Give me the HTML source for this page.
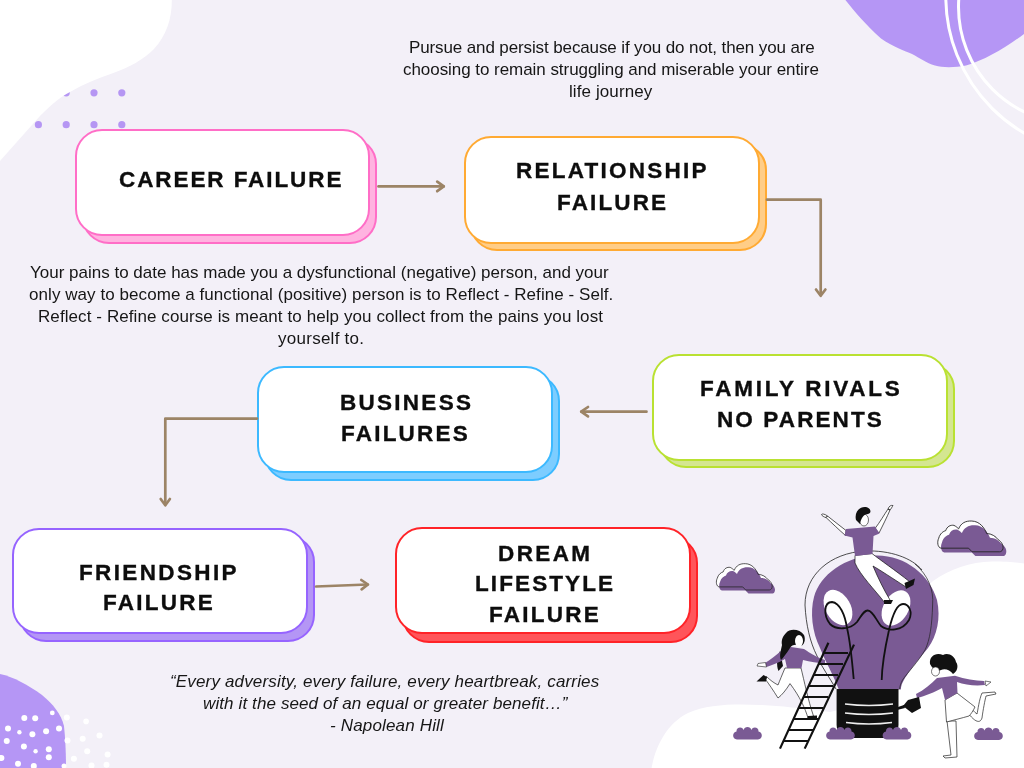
<!DOCTYPE html>
<html><head><meta charset="utf-8"><style>
html,body{margin:0;padding:0;}
body{width:1024px;height:768px;overflow:hidden;position:relative;background:#F3F0F8;font-family:"Liberation Sans",sans-serif;}
.a{position:absolute;}
.lb,.tx{will-change:transform;}
.sh,.fr{position:absolute;box-sizing:border-box;border-radius:27px;border:2px solid;}
.fr{background:#fff;}
.lb{position:absolute;white-space:nowrap;font-weight:bold;font-size:22.5px;line-height:30px;color:#0d0d0d;-webkit-text-stroke:0.35px #0d0d0d;}
.tx{position:absolute;white-space:nowrap;font-size:17px;line-height:30px;color:#161616;}
.it{font-style:italic;}
svg{position:absolute;left:0;top:0;}
</style></head><body>

<svg width="1024" height="768" viewBox="0 0 1024 768">
<circle cx="38.4" cy="29" r="3.6" fill="#B596F3"/>
<circle cx="66.2" cy="29" r="3.6" fill="#B596F3"/>
<circle cx="94" cy="29" r="3.6" fill="#B596F3"/>
<circle cx="121.8" cy="29" r="3.6" fill="#B596F3"/>
<circle cx="38.4" cy="61" r="3.6" fill="#B596F3"/>
<circle cx="66.2" cy="61" r="3.6" fill="#B596F3"/>
<circle cx="94" cy="61" r="3.6" fill="#B596F3"/>
<circle cx="121.8" cy="61" r="3.6" fill="#B596F3"/>
<circle cx="38.4" cy="92.8" r="3.6" fill="#B596F3"/>
<circle cx="66.2" cy="92.8" r="3.6" fill="#B596F3"/>
<circle cx="94" cy="92.8" r="3.6" fill="#B596F3"/>
<circle cx="121.8" cy="92.8" r="3.6" fill="#B596F3"/>
<circle cx="38.4" cy="124.7" r="3.6" fill="#B596F3"/>
<circle cx="66.2" cy="124.7" r="3.6" fill="#B596F3"/>
<circle cx="94" cy="124.7" r="3.6" fill="#B596F3"/>
<circle cx="121.8" cy="124.7" r="3.6" fill="#B596F3"/>
<path d="M0,0 L171.8,0 C172,19 166,36 154,49 C143,60 130,67 112,73.5 C98,78 84,84 70,92 C60,97 52,104 40,116 L0,161 Z" fill="#fff"/>
<path d="M845.4,0 C855,12 866,25 881,38.6 C893,47 905,51 912,54 C920,58 926,63 935,65.6 C943,68 956,67.5 966,65.6 C985,60 1005,48 1024,34 L1024,0 Z" fill="#B596F5"/>
<circle cx="1103.7" cy="-3.3" r="157.9" fill="none" stroke="#fff" stroke-width="3"/>
<circle cx="1075" cy="7" r="116.5" fill="none" stroke="#fff" stroke-width="3"/>
<path d="M0,674 C14,677 28,685 42,695 C53,704 61,714 64,726 C65.5,740 66,755 66,768 L0,768 Z" fill="#B596F5"/>
<circle cx="24.3" cy="718" r="3" fill="#fff"/>
<circle cx="35.2" cy="718.3" r="3" fill="#fff"/>
<circle cx="52.3" cy="712.9" r="2.4" fill="#fff"/>
<circle cx="8" cy="728.5" r="3" fill="#fff"/>
<circle cx="19.4" cy="732.2" r="2.2" fill="#fff"/>
<circle cx="32.4" cy="734.3" r="3" fill="#fff"/>
<circle cx="46.1" cy="731.2" r="3" fill="#fff"/>
<circle cx="59" cy="728.5" r="3" fill="#fff"/>
<circle cx="6.75" cy="741" r="3" fill="#fff"/>
<circle cx="23.9" cy="746.6" r="3" fill="#fff"/>
<circle cx="35.6" cy="751.2" r="2.2" fill="#fff"/>
<circle cx="48.8" cy="749.2" r="3" fill="#fff"/>
<circle cx="1.4" cy="757.9" r="3" fill="#fff"/>
<circle cx="18" cy="763.8" r="3" fill="#fff"/>
<circle cx="33.8" cy="766" r="3" fill="#fff"/>
<circle cx="48.8" cy="757.2" r="3" fill="#fff"/>
<circle cx="66.8" cy="717.5" r="3" fill="#fff"/>
<circle cx="86.1" cy="721.4" r="2.8" fill="#fff"/>
<circle cx="67.5" cy="740.4" r="3" fill="#fff"/>
<circle cx="82.7" cy="738.7" r="3" fill="#fff"/>
<circle cx="99.5" cy="735.4" r="3" fill="#fff"/>
<circle cx="87.2" cy="751.2" r="3" fill="#fff"/>
<circle cx="73.9" cy="758.7" r="3" fill="#fff"/>
<circle cx="107.6" cy="754.6" r="3" fill="#fff"/>
<circle cx="91.5" cy="765.6" r="3" fill="#fff"/>
<circle cx="106.5" cy="764.8" r="3" fill="#fff"/>
<circle cx="64" cy="766" r="2.5" fill="#fff"/>
</svg>
<div class="sh" style="left:81.70000000000002px;top:136.89999999999998px;width:295.1px;height:106.70000000000002px;border-color:#FF6EC7;background:#FFB3E0"></div>
<div class="fr" style="left:74.6px;top:129.1px;width:295.1px;height:106.70000000000002px;border-color:#FF6EC7"></div>
<div class="sh" style="left:470.4px;top:143.4px;width:296.4px;height:107.69999999999999px;border-color:#FFAA33;background:#FFCD87"></div>
<div class="fr" style="left:464.1px;top:135.9px;width:296.4px;height:107.69999999999999px;border-color:#FFAA33"></div>
<div class="sh" style="left:659.1999999999999px;top:361.6px;width:295.6px;height:106.89999999999998px;border-color:#B9E132;background:#D4E691"></div>
<div class="fr" style="left:652.1px;top:353.8px;width:295.6px;height:106.89999999999998px;border-color:#B9E132"></div>
<div class="sh" style="left:264.19999999999993px;top:373.90000000000003px;width:295.6px;height:107.29999999999995px;border-color:#3CB9FF;background:#7DCDFF"></div>
<div class="fr" style="left:257.1px;top:366.1px;width:295.6px;height:107.29999999999995px;border-color:#3CB9FF"></div>
<div class="sh" style="left:19.200000000000024px;top:535.4px;width:295.59999999999997px;height:106.5px;border-color:#9664FF;background:#B496F5"></div>
<div class="fr" style="left:12.1px;top:527.9px;width:295.59999999999997px;height:106.5px;border-color:#9664FF"></div>
<div class="sh" style="left:401.69999999999993px;top:535.5px;width:296.1px;height:107.20000000000005px;border-color:#FF2328;background:#FF555A"></div>
<div class="fr" style="left:395.4px;top:526.8px;width:296.1px;height:107.20000000000005px;border-color:#FF2328"></div>
<svg width="1024" height="768" viewBox="0 0 1024 768" fill="none" stroke="#9C8466" stroke-width="2.7" stroke-linecap="round" stroke-linejoin="round">
<path d="M378.5,186.4 H443.5"/><path d="M437.2,181.6 L443.8,186.4 L437.2,191.2"/>
<path d="M767,199.7 H820.7 V295"/><path d="M816,289.5 L820.7,295.8 L825.4,289.5"/>
<path d="M646.5,411.7 H581.5"/><path d="M588,407 L581.2,411.7 L588,416.4"/>
<path d="M257,418.6 H165.3 V504.5"/><path d="M160.7,499 L165.3,505.3 L169.9,499"/>
<path d="M316,586.5 L367.5,584.5"/><path d="M361.3,580 L368,584.5 L361.6,589.3"/>
</svg>
<div class="lb" style="left:118.6px;top:165.0px;letter-spacing:1.915px">CAREER FAILURE</div>
<div class="lb" style="left:516.2px;top:155.9px;letter-spacing:2.236px">RELATIONSHIP</div>
<div class="lb" style="left:556.6px;top:187.7px;letter-spacing:2.133px">FAILURE</div>
<div class="lb" style="left:699.6px;top:373.9px;letter-spacing:2.725px">FAMILY RIVALS</div>
<div class="lb" style="left:717.0px;top:404.7px;letter-spacing:2.111px">NO PARENTS</div>
<div class="lb" style="left:339.7px;top:388.0px;letter-spacing:2.271px">BUSINESS</div>
<div class="lb" style="left:341.0px;top:419.0px;letter-spacing:2.214px">FAILURES</div>
<div class="lb" style="left:79.0px;top:557.5px;letter-spacing:2.367px">FRIENDSHIP</div>
<div class="lb" style="left:102.5px;top:588.4px;letter-spacing:2.25px">FAILURE</div>
<div class="lb" style="left:497.9px;top:538.8px;letter-spacing:2.4px">DREAM</div>
<div class="lb" style="left:474.6px;top:569.3px;letter-spacing:2.1px">LIFESTYLE</div>
<div class="lb" style="left:488.6px;top:600.2px;letter-spacing:2.25px">FAILURE</div>
<div class="tx" style="left:408.6px;top:32.9px;letter-spacing:-0.119px">Pursue and persist because if you do not, then you are</div>
<div class="tx" style="left:403.1px;top:54.8px;letter-spacing:-0.05px">choosing to remain struggling and miserable your entire</div>
<div class="tx" style="left:569.25px;top:76.7px;letter-spacing:0.095px">life journey</div>
<div class="tx" style="left:29.9px;top:257.8px;letter-spacing:0.0px">Your pains to date has made you a dysfunctional (negative) person, and your</div>
<div class="tx" style="left:28.7px;top:279.8px;letter-spacing:0.065px">only way to become a functional (positive) person is to Reflect - Refine - Self.</div>
<div class="tx" style="left:37.5px;top:301.7px;letter-spacing:0.087px">Reflect - Refine course is meant to help you collect from the pains you lost</div>
<div class="tx" style="left:277.8px;top:323.6px;letter-spacing:0.264px">yourself to.</div>
<div class="tx it" style="left:170.3px;top:666.7px;letter-spacing:0.16px">“Every adversity, every failure, every heartbreak, carries</div>
<div class="tx it" style="left:202.6px;top:688.7px;letter-spacing:0.112px">with it the seed of an equal or greater benefit…”</div>
<div class="tx it" style="left:329.7px;top:710.7px;letter-spacing:0.164px">- Napolean Hill</div>
<svg width="1024" height="768" viewBox="0 0 1024 768">
<!-- white hill -->
<path d="M651.6,768 C655,748 666,724 688,713 C708,704 735,704 760,705 C780,706 798,708 830,712 L880,700 C905,640 915,595 933,581 C950,569 970,562 992,561.5 C1008,561.5 1018,562.5 1024,563.5 L1024,768 Z" fill="#fff"/>
<!-- clouds -->
<g id="cl">
<path d="M722,590.5 C719,590 718.5,585 720,582 C721,578 724,576 726,575.5 C727,572 730,570.5 733,571 C735,572 736,573 737,574 C739,569 743,567 748.3,567.3 C755,567.5 759,573 761,578 C765,578 769,580.5 770.5,583 C774,585 776,589 774.5,592 C774,593 773,593.6 772,593.6 L748.5,593.6 L745.5,590.5 Z" transform="translate(-2.8,-3.6)" fill="#fff"/>
<path d="M722,590.5 C719,590 718.5,585 720,582 C721,578 724,576 726,575.5 C727,572 730,570.5 733,571 C735,572 736,573 737,574 C739,569 743,567 748.3,567.3 C755,567.5 759,573 761,578 C765,578 769,580.5 770.5,583 C774,585 776,589 774.5,592 C774,593 773,593.6 772,593.6 L748.5,593.6 L745.5,590.5 Z" fill="#7A5A94"/>
<path d="M722,590.5 C719,590 718.5,585 720,582 C721,578 724,576 726,575.5 C727,572 730,570.5 733,571 C735,572 736,573 737,574 C739,569 743,567 748.3,567.3 C755,567.5 759,573 761,578 C765,578 769,580.5 770.5,583 C774,585 776,589 774.5,592 C774,593 773,593.6 772,593.6 L748.5,593.6 L745.5,590.5 Z" transform="translate(-2.8,-3.6)" fill="none" stroke="#222" stroke-width="0.75"/>
</g>
<use href="#cl" transform="translate(99.6,-138.5) scale(1.17)"/>
<!-- bulb outline thin -->
<path d="M836,689 C830,678 822,668 817,656 C810,642 806,625 805,605 C805,575 830,553 865,551 C890,550 912,558 922,570" fill="none" stroke="#222" stroke-width="0.8"/>
<!-- bulb glass -->
<path d="M838.8,689.5 C834,676 826,663 820,648 C812,632 810,612 814,597 C820,575 845,556 876,555.5 C905,555 930,575 937,600 C941,618 937,636 928,648 C920,658 911,668 905,678 C902,683 901,686 900.8,689.5 Z" fill="#7A5A94"/>
<!-- inner thin line right -->
<path d="M915,564 C928,575 934,590 932.6,605 C932,625 930,640 925,650 C918,662 908,672 902.5,680 C900.5,684 900,686 899.6,689" fill="none" stroke="#222" stroke-width="0.7"/>
<!-- highlights -->
<ellipse cx="838" cy="607.5" rx="12.5" ry="19" transform="rotate(-30 838 607.5)" fill="#fff"/>
<ellipse cx="896" cy="608" rx="12.5" ry="19" transform="rotate(30 896 608)" fill="#fff"/>
<!-- filament -->
<path d="M853.7,679 C852,660 850,640 847,628 C845,615 840,603 832,602 C824,602 823,615 830,624 C836,630 850,630 857,622 C862,615 864,610 868,610.5 C873,611 876,620 881,626 C888,631 902,632 909,620 C913,612 909,604 903,604 C896,604 892,617 889,630 C885,648 882,665 881.7,680" fill="none" stroke="#111" stroke-width="1.8"/>
<!-- base -->
<path d="M836.6,689 L898.5,689 L898.5,725 C898.5,733 892,738 884,738 L851,738 C843,738 836.6,733 836.6,725 Z" fill="#111"/>
<path d="M845,704 Q869,707 893,704 M845,713 Q869,716 893,713 M846,722.5 Q869,725.5 892,722.5" fill="none" stroke="#eee" stroke-width="1.3"/>
<!-- man on top -->
<g>
<path d="M846,530.5 C840,526 834,521 827.5,516 L826,517.5 C832,523 838,529 845.5,535.5 Z M827.5,516 C825,514 822,513.5 821.5,514.5 C822,516 824,517 826,517.5 Z" fill="#fff" stroke="#111" stroke-width="0.7"/>
<path d="M875,528.5 C880,522 884,515 888,509 L890,510 C887,517 883,525 879,533 Z M888,509 C889,506 891,505 893,505.5 C892,507 891,509 890,510 Z" fill="#fff" stroke="#111" stroke-width="0.7"/>
<path d="M855,555.5 L872,553.5 C880,560 895,570 910,582 L906,587 C892,578 880,570 873,566 C878,578 884,590 890,600 L885,603 C875,590 860,575 855,563 Z" fill="#fff" stroke="#111" stroke-width="0.7"/>
<path d="M846,529 L875,526.5 L879.5,533.5 L873.5,536 L872.5,554 L855,556 L852.5,537.5 L844.5,535.5 Z" fill="#7A5A94"/>
<ellipse cx="864" cy="520" rx="4.5" ry="6" fill="#fff" stroke="#111" stroke-width="0.6"/>
<path d="M856,520 C854,512 860,506 866,507 C871,508 872,513 868,514 C864,514 861,518 860,524 Z" fill="#111"/>
<path d="M904.5,583 L915,578.5 L913.5,585 L906,589 Z" fill="#111"/>
<path d="M884,600 L893,600 L891,604 L884,604 Z" fill="#111"/>
</g>
<!-- left woman -->
<g>
<path d="M785,668 L801,668 C804,680 808,700 813.5,716 L808,718 C805,708 800,697 790,683.6 C786,690 782,695 778,698 C773,690 769,684 765.5,679.5 L766.5,676.5 C770,680 774,683 778,685 C780,680 782,675 785,668 Z" fill="#fff" stroke="#222" stroke-width="0.7"/>
<path d="M756.5,681.5 L763.5,675 L767,677 L766,681.5 Z" fill="#111"/>
<path d="M808,716 L817,715.5 L817,719.5 L807,719.5 Z" fill="#111"/>
<path d="M780,651 C777,657 776,665 778.5,671 L783,666 Z" fill="#111"/>
<path d="M791,647 L781,651 C776,655 770,660 765,663 L766.5,667 C772,665 778,663 785,659 L787,668 L801.5,668 L803,660 C810,662 818,663 825,663.5 L825,660 C818,658 810,653 804,649 Z" fill="#7A5A94"/>
<path d="M765.5,662.5 L758,663.5 L757,666 L766.5,667 Z" fill="#fff" stroke="#222" stroke-width="0.6"/>
<path d="M786,633 C790,628 800,629 804,635 C806,640 804,645 801,646 C797,644 792,644 790,648 C786,654 783,658 781,660 C779,656 781,650 782,645 C781,640 783,636 786,633 Z" fill="#111"/>
<ellipse cx="799" cy="641" rx="4" ry="6" fill="#fff"/>
</g>
<!-- ladder -->
<g stroke="#111" stroke-width="2.2" fill="none">
<path d="M780,748.6 L828.4,642.8 M804.7,748.6 L854,644.6"/>
<path d="M783,741 L808,741 M788,730 L813,730 M793,719 L818,719 M798,708 L823,708 M803,697 L828,697 M808,686 L833,686 M813,675 L838,675 M818,664 L843,664 M823,653 L848,653"/>
</g>
<!-- right woman -->
<g>
<path d="M947,721 L951,755 L943,756 L945,758 L957,757 L956,721 Z" fill="#fff" stroke="#222" stroke-width="0.7"/>
<path d="M968,713 C975,722 980,724 982,718 C983,710 985,700 986,696 L996,694 L995,692 L982,693 C979,700 978,710 977,714 C974,712 972,709 970,707 Z" fill="#fff" stroke="#222" stroke-width="0.7"/>
<path d="M945,700 L957,693 C962,697 970,703 975,707 C973,711 971,714 969,716 C962,718 954,720 946.5,722 Z" fill="#fff" stroke="#222" stroke-width="0.7"/>
<path d="M937,678 L955,675.8 C965,679 975,681 984,681 L985,685 C975,686 965,685 957,682 L957.5,693 L945,700 L942,688 C935,692 925,696 917,698 L916,694 C924,690 931,684 937,678 Z" fill="#7A5A94"/>
<path d="M985,681 L991,682 L986,686 Z" fill="#fff" stroke="#222" stroke-width="0.6"/>
<path d="M908,700 L919,697 L921,708 L912,713 L903,706 Z" fill="#111"/>
<path d="M904,705 L895,708 L897,710 L905,708 Z" fill="#111"/>
<path d="M930,664 C929,656 936,652 943,655 C948,652 955,656 956,662 C959,666 957,672 953,674 C950,670 945,668 941,670 C938,672 933,670 930,664 Z" fill="#111"/>
<ellipse cx="935.5" cy="671.5" rx="4" ry="4.5" fill="#fff" stroke="#222" stroke-width="0.6"/>
</g>
<!-- bushes -->
<g id="bush"><path d="M830,739.4 C825,739.4 825,732 829.5,731.5 C829,727 835.5,726 836.5,730 C837.5,726 843.5,726 844.5,730 C845.5,726 852,727 851.5,731.5 C856,732 856,739.4 851,739.4 Z" fill="#7A5A94"/></g>
<use href="#bush" transform="translate(-93,0)"/>
<use href="#bush" transform="translate(56.5,0)"/>
<use href="#bush" transform="translate(148,0.5)"/>
</svg>

</body></html>
